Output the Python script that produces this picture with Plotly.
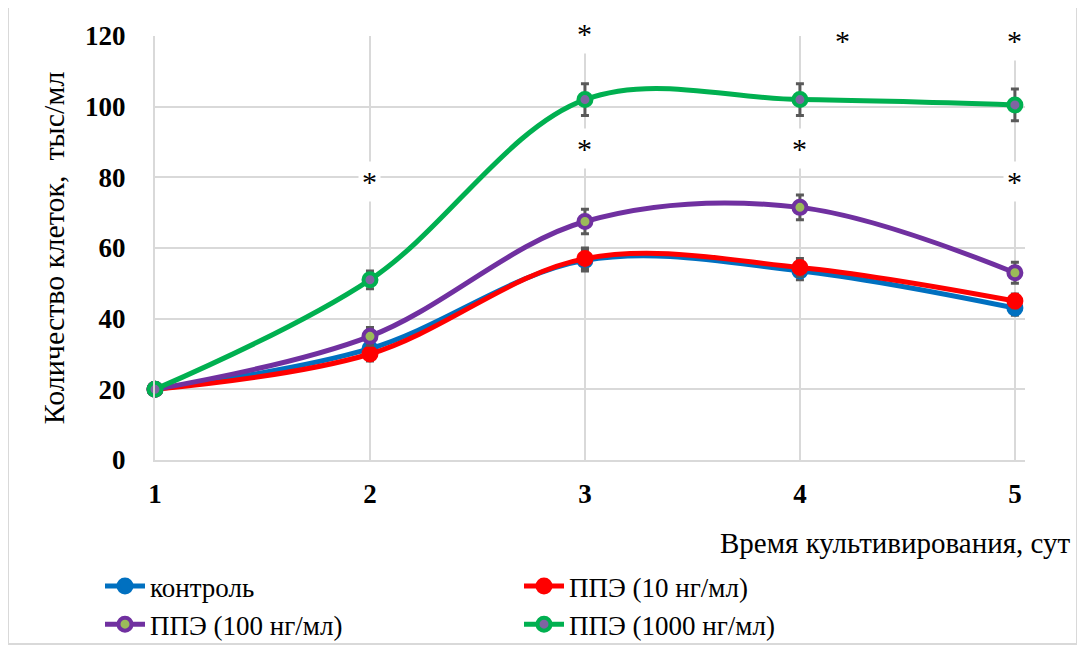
import plotly.graph_objects as go

days = [1, 2, 3, 4, 5]
series_names = ["контроль", "ППЭ (10 нг/мл)", "ППЭ (100 нг/мл)", "ППЭ (1000 нг/мл)"]
control = [20, 31.5, 56.5, 53.5, 43]
ppe10 = [20, 30, 57, 54.5, 45]
ppe100 = [20, 35, 67.5, 71.5, 53]
ppe1000 = [20, 51, 102, 102, 100.5]
err_control = [0, 2, 3, 2.5, 2]
err_ppe10 = [0, 2, 3, 2.5, 2]
err_ppe100 = [0, 2.5, 3.5, 3.5, 3]
err_ppe1000 = [0, 2.5, 4.5, 4.5, 4.5]
star_x = [2, 3, 3, 4, 4.2, 5, 5]
star_y = [79, 88.5, 121, 88.5, 119, 119, 79]

colors = ["#0070C0", "#FF0000", "#7030A0", "#00B050"]
centers = ["#0070C0", "#FF0000", "#9BBB59", "#8064A2"]
values = [control, ppe10, ppe100, ppe1000]
errs = [err_control, err_ppe10, err_ppe100, err_ppe1000]

OFF = 8  # page body margin
W, H = 1085 - OFF, 650 - OFF
L, R, T, B = 155 - OFF, 1085 - 1025, 36 - OFF, 650 - 460
pw, ph = W - L - R, H - T - B
YMAX = 120

def px(x):
    return (x - OFF - L) / pw

def py(y):
    return (H - B - (y - OFF)) / ph

fig = go.Figure()
for name, col, cen, v, e in zip(series_names, colors, centers, values, errs):
    fig.add_trace(go.Scatter(
        x=days, y=v, name=name, mode="lines+markers",
        line=dict(color=col, width=5, shape="spline", smoothing=1.0),
        marker=dict(symbol="circle", size=13, color=cen, line=dict(color=col, width=4)),
        error_y=dict(type="data", array=e, visible=True, color="#595959", thickness=3, width=4),
        cliponaxis=False,
    ))

serif = "Liberation Serif, DejaVu Serif, serif"
for sx, sy in zip(star_x, star_y):
    fig.add_annotation(x=sx, y=sy / YMAX, text="*", showarrow=False, xref="x", yref="paper",
                       xanchor="center", yanchor="middle",
                       font=dict(family=serif, size=30, color="black"),
                       bgcolor="white", borderpad=3, yshift=-1)

fig.add_annotation(x=px(1073), y=py(543), xref="paper", yref="paper", xanchor="right",
                   yanchor="middle", text="Время культивирования, сут", showarrow=False,
                   font=dict(family=serif, size=29, color="black"))

fig.add_shape(type="rect", xref="paper", yref="paper", x0=px(8), x1=px(1077), y0=py(644), y1=py(6),
              line=dict(color="#D9D9D9", width=2), fillcolor="rgba(0,0,0,0)", layer="below")

fig.update_layout(
    width=W, height=H,
    margin=dict(l=L, r=R, t=T, b=B, autoexpand=False),
    paper_bgcolor="white", plot_bgcolor="white",
    font=dict(family=serif, color="black"),
    showlegend=True,
    legend=dict(orientation="h", x=px(100), y=py(562), xanchor="left", yanchor="top",
                entrywidth=364, entrywidthmode="pixels",
                font=dict(family=serif, size=27, color="black"),
                tracegroupgap=0, itemwidth=40, bgcolor="rgba(0,0,0,0)"),
    xaxis=dict(range=[1, 5.047], tickvals=days, ticktext=[str(d) for d in days],
               automargin=False,
               showgrid=True, gridcolor="#D9D9D9", gridwidth=2,
               showline=True, linecolor="#D9D9D9", linewidth=2, zeroline=False,
               ticks="", ticklabelstandoff=9,
               tickfont=dict(family=serif, size=27, color="black", weight="bold")),
    yaxis=dict(range=[0, YMAX], tickvals=[0, 20, 40, 60, 80, 100, 120],
               automargin=False,
               showgrid=True, gridcolor="#D9D9D9", gridwidth=2,
               showline=True, linecolor="#D9D9D9", linewidth=2, zeroline=False,
               ticks="", ticklabelstandoff=22,
               tickfont=dict(family=serif, size=27, color="black", weight="bold"),
               title=dict(text="Количество клеток,  тыс/мл", standoff=12,
                          font=dict(family=serif, size=30, color="black"))),
)

fig.write_html("out.html")
